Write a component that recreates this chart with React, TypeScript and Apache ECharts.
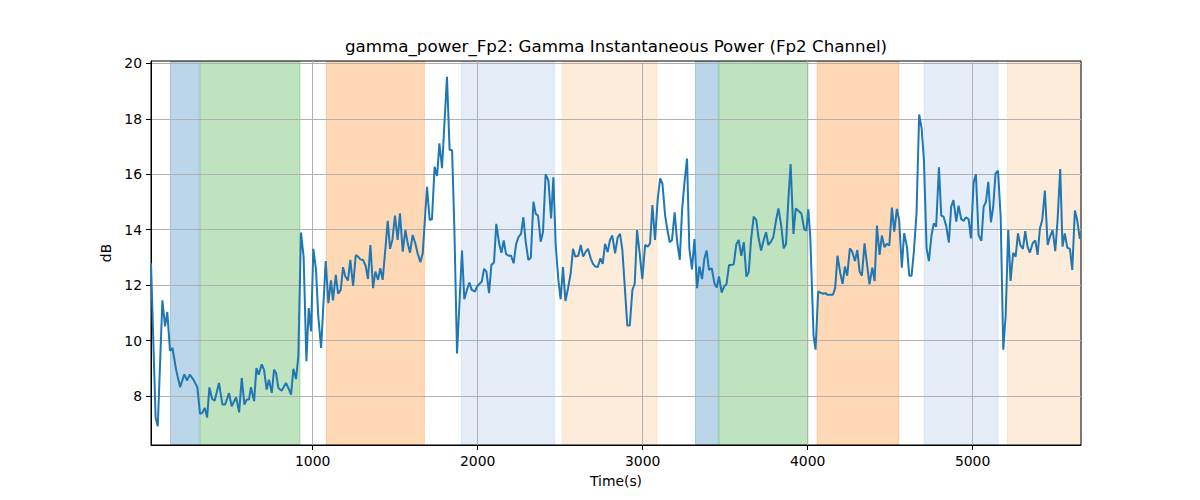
import React, { useEffect, useRef } from "react";
import * as echarts from "echarts";

const chartTitle = "gamma_power_Fp2: Gamma Instantaneous Power (Fp2 Channel)";
const xAxisName = "Time(s)";
const yAxisName = "dB";

const xTicks = [1000, 2000, 3000, 4000, 5000];
const yTicks = [8, 10, 12, 14, 16, 18, 20];
const xRange = [20, 5657];
const yRange = [6.23, 20.09];

// shaded epochs: start, end (s) and kind
const bandStart = [138, 319, 1083, 1901, 2513, 3320, 3463, 4058, 4707, 5210];
const bandEnd = [313, 923, 1677, 2465, 3087, 3459, 4002, 4553, 5154, 5657];
const bandKind = ["blue", "green", "orange", "lightblue", "lightorange", "blue", "green", "orange", "lightblue", "lightorange"];

// gamma power trace: [time (s), dB]
const gammaTrace: [number, number][] = [
  [20, 12.79], [48, 7.21], [61, 6.91], [89, 11.45], [105, 10.51], [119, 11.03], [135, 9.63], [150, 9.73], [172, 8.95], [196, 8.32],
  [222, 8.78], [238, 8.56], [255, 8.77], [275, 8.61], [301, 8.31], [317, 7.35], [331, 7.39], [346, 7.57], [360, 7.22], [374, 8.31],
  [390, 7.9], [406, 7.83], [432, 8.47], [453, 7.69], [469, 7.69], [493, 8.1], [509, 7.63], [536, 7.96], [554, 7.41], [570, 8.65],
  [586, 7.69], [600, 7.87], [614, 7.87], [626, 8.32], [645, 7.81], [659, 9.01], [673, 8.77], [691, 9.14], [705, 8.95], [721, 8.23],
  [735, 8.59], [752, 8.11], [766, 8.95], [778, 8.83], [792, 8.29], [812, 8.19], [838, 8.47], [857, 8.23], [869, 8.05], [883, 8.98],
  [899, 8.61], [913, 9.43], [929, 13.9], [945, 13.03], [962, 9.25], [976, 11.17], [990, 10.33],
  [1004, 13.31], [1020, 12.57], [1034, 10.87], [1051, 9.73], [1079, 12.87], [1095, 11.35], [1111, 12.17], [1123, 11.45], [1140, 12.37], [1154, 11.69],
  [1170, 11.83], [1184, 12.65], [1198, 12.31], [1214, 12.17], [1228, 12.91], [1245, 11.97], [1261, 13.08], [1275, 13.03], [1289, 12.93], [1305, 12.91],
  [1321, 12.7], [1335, 12.22], [1350, 13.45], [1366, 11.89], [1380, 12.49], [1396, 12.19], [1410, 12.61], [1424, 12.19], [1441, 13.33], [1455, 14.32],
  [1469, 13.31], [1483, 13.63], [1499, 14.51], [1515, 13.63], [1529, 14.59], [1546, 13.21], [1562, 13.99], [1576, 13.51], [1590, 13.17], [1606, 13.81],
  [1622, 13.51], [1636, 13.15], [1653, 12.83], [1667, 13.15], [1693, 15.55], [1709, 14.35], [1723, 14.38], [1739, 16.27], [1754, 15.94], [1768, 17.12],
  [1784, 16.22], [1814, 19.52], [1830, 16.88], [1845, 16.88], [1859, 13.99], [1875, 9.53], [1905, 13.25], [1919, 11.49], [1935, 11.83], [1950, 12.09],
  [1964, 11.83],
  [1984, 11.77], [1996, 11.95], [2012, 12.05], [2025, 12.13], [2039, 12.59], [2053, 12.49], [2069, 11.71], [2083, 12.73], [2099, 12.82], [2113, 14.21],
  [2130, 13.51], [2144, 13.17], [2158, 13.61], [2172, 13.12], [2188, 13.06], [2202, 13.07], [2218, 12.79], [2233, 13.48], [2247, 13.73], [2263, 13.85],
  [2277, 14.45], [2291, 13.57], [2307, 12.91], [2322, 12.99], [2338, 15.01], [2352, 14.57], [2366, 14.51], [2382, 13.57], [2396, 13.91], [2412, 16.0],
  [2429, 15.77], [2445, 14.41], [2459, 15.89], [2473, 13.45], [2489, 12.19], [2503, 11.49], [2517, 12.65], [2532, 11.43], [2548, 11.89], [2564, 12.43],
  [2578, 13.31], [2592, 13.03], [2610, 13.06], [2625, 13.45], [2639, 13.03], [2655, 13.21], [2669, 13.31], [2685, 12.97], [2699, 12.77], [2713, 12.67],
  [2728, 12.65], [2744, 12.97], [2758, 12.77], [2772, 13.49], [2788, 13.19], [2802, 13.63], [2816, 13.79], [2833, 13.15], [2849, 13.73], [2863, 13.85],
  [2877, 13.27], [2893, 11.83], [2907, 10.54], [2922, 10.54], [2938, 11.83], [2952, 12.05], [2966, 13.99],
  [2982, 13.15], [2998, 12.22], [3015, 13.45], [3031, 13.39], [3045, 13.51], [3059, 14.89], [3075, 13.63], [3091, 15.07], [3106, 15.85], [3120, 15.67],
  [3136, 14.53], [3150, 13.99], [3164, 13.55], [3178, 13.63], [3194, 14.63], [3209, 13.57], [3225, 12.91], [3239, 14.71], [3253, 15.67], [3269, 16.57],
  [3283, 13.33], [3299, 12.57], [3314, 13.66], [3330, 11.89], [3344, 12.67], [3360, 12.22], [3374, 12.95], [3388, 13.25], [3402, 12.55], [3419, 12.61],
  [3435, 12.07], [3449, 11.91], [3463, 12.31], [3479, 11.73], [3493, 11.95], [3508, 12.03], [3524, 12.73], [3538, 12.73], [3552, 12.75], [3568, 13.48],
  [3582, 13.63], [3598, 13.06], [3613, 13.55], [3629, 12.31], [3643, 12.47], [3657, 13.63], [3673, 14.47], [3689, 14.35], [3703, 13.69], [3718, 13.25],
  [3734, 13.63], [3748, 13.91], [3762, 13.45], [3778, 13.57], [3792, 13.73], [3809, 14.35], [3823, 14.77], [3839, 14.19], [3855, 13.33], [3869, 13.48],
  [3883, 15.07], [3897, 16.37], [3914, 13.85], [3928, 14.77],
  [3951, 14.65], [3963, 14.57], [3979, 14.02], [3992, 13.97], [4004, 14.74], [4016, 13.75], [4026, 11.95], [4036, 10.17], [4048, 9.67], [4064, 11.77],
  [4078, 11.73], [4093, 11.69], [4107, 11.71], [4121, 11.65], [4137, 11.65], [4153, 11.65], [4167, 11.89], [4181, 13.06], [4198, 12.43], [4212, 12.05],
  [4226, 12.67], [4240, 12.34], [4256, 13.33], [4270, 13.21], [4287, 12.87], [4301, 13.27], [4315, 12.49], [4329, 12.34], [4345, 13.51], [4361, 12.7],
  [4375, 12.03], [4392, 12.63], [4406, 12.15], [4420, 14.15], [4436, 13.09], [4450, 13.79], [4466, 13.37], [4480, 13.49], [4495, 13.43], [4511, 14.8],
  [4525, 13.93], [4541, 14.75], [4555, 14.33], [4571, 12.63], [4585, 13.87], [4602, 13.39], [4616, 12.34], [4630, 12.34], [4644, 13.21], [4660, 14.59],
  [4676, 18.16], [4691, 17.66], [4705, 16.51], [4721, 13.33], [4735, 12.87], [4751, 13.81], [4765, 14.23], [4779, 14.11], [4796, 16.25], [4810, 14.51],
  [4824, 14.47], [4840, 14.14], [4856, 13.54], [4870, 14.83], [4884, 15.07], [4901, 14.29], [4915, 14.87],
  [4931, 14.38], [4946, 14.32], [4960, 14.45], [4976, 14.38], [4990, 13.69], [5006, 15.7], [5020, 16.0], [5036, 13.81], [5053, 13.6], [5067, 14.83],
  [5081, 15.01], [5095, 15.73], [5111, 14.27], [5125, 14.83], [5139, 16.03], [5154, 16.13], [5170, 14.47], [5186, 9.67], [5200, 10.87], [5216, 13.99],
  [5230, 12.15], [5246, 13.17], [5261, 13.03], [5275, 13.87], [5289, 13.45], [5305, 13.31], [5319, 13.95], [5333, 13.39], [5347, 13.17], [5364, 13.51],
  [5380, 13.61], [5394, 13.09], [5408, 14.05], [5422, 14.35], [5438, 15.41], [5455, 13.45], [5469, 13.75], [5485, 13.99], [5501, 13.23], [5515, 14.35],
  [5531, 16.19], [5545, 13.39], [5559, 13.87], [5574, 13.35], [5590, 13.31], [5604, 12.55], [5620, 14.69], [5634, 14.35], [5650, 13.67],
];

const bandFill: Record<string, string> = {
  blue: "rgba(31,119,180,0.3)",
  green: "rgba(44,160,44,0.3)",
  orange: "rgba(255,127,14,0.3)",
  lightblue: "rgba(100,149,215,0.17)",
  lightorange: "rgba(250,160,70,0.2)",
};

const FONT = "DejaVu Sans";

export default function App() {
  const ref = useRef<HTMLDivElement>(null);
  useEffect(() => {
    if (!ref.current) return;
    const chart = echarts.init(ref.current, null, { renderer: "svg" });
    const bandData = bandStart.map((s, i) => [s, bandEnd[i], i]);
    const gridLeft = 151;
    const gridRight = 1081;
    chart.setOption({
      animation: false,
      backgroundColor: "#ffffff",
      grid: {
        left: gridLeft,
        right: 1200 - gridRight,
        top: 61,
        bottom: 55,
        show: true,
        borderColor: "#000000",
        borderWidth: 1,
        backgroundColor: "transparent",
        z: 0,
      },
      graphic: [
        {
          type: "text",
          x: (gridLeft + gridRight) / 2,
          y: 46,
          style: {
            text: chartTitle,
            textAlign: "center",
            textVerticalAlign: "middle",
            fontFamily: FONT,
            fontSize: 16.7,
            fill: "#000000",
          },
        },
      ],
      xAxis: {
        type: "value",
        min: xRange[0],
        max: xRange[1],
        name: xAxisName,
        nameLocation: "middle",
        nameGap: 29,
        nameTextStyle: { fontFamily: FONT, fontSize: 13.9, color: "#000000" },
        axisLine: { show: true, onZero: false, lineStyle: { color: "#000000", width: 1 } },
        axisTick: { show: true, length: 5, customValues: xTicks, lineStyle: { color: "#000000", width: 1 } },
        axisLabel: {
          customValues: xTicks,
          formatter: (v: number) => String(v),
          margin: 9,
          fontFamily: FONT,
          fontSize: 13.9,
          color: "#000000",
        },
        splitLine: { show: true, lineStyle: { color: "#b0b0b0", width: 1 } },
      },
      yAxis: {
        type: "value",
        min: yRange[0],
        max: yRange[1],
        name: yAxisName,
        nameLocation: "middle",
        nameGap: 34,
        nameTextStyle: { fontFamily: FONT, fontSize: 13.9, color: "#000000" },
        axisLine: { show: true, onZero: false, lineStyle: { color: "#000000", width: 1 } },
        axisTick: { show: true, length: 5, customValues: yTicks, lineStyle: { color: "#000000", width: 1 } },
        axisLabel: {
          customValues: yTicks,
          formatter: (v: number) => String(v),
          margin: 9,
          fontFamily: FONT,
          fontSize: 13.9,
          color: "#000000",
        },
        splitLine: { show: true, lineStyle: { color: "#b0b0b0", width: 1 } },
      },
      series: [
        {
          type: "custom",
          z: -1,
          silent: true,
          clip: true,
          encode: { x: [0, 1] },
          data: bandData,
          renderItem: (params: any, api: any) => {
            const idx = api.value(2);
            const color = bandFill[bandKind[idx]];
            const p0 = api.coord([api.value(0), yRange[1]]);
            const p1 = api.coord([api.value(1), yRange[0]]);
            return {
              type: "rect",
              shape: { x: p0[0], y: p0[1], width: p1[0] - p0[0], height: p1[1] - p0[1] },
              style: { fill: color, stroke: color, lineWidth: 1 },
            };
          },
        },
        {
          type: "line",
          z: 3,
          data: gammaTrace,
          showSymbol: false,
          symbol: "none",
          clip: true,
          lineStyle: { color: "#1f77b4", width: 2 },
          itemStyle: { color: "#1f77b4" },
        },
      ],
    });
    return () => chart.dispose();
  }, []);
  return (
    <div
      ref={ref}
      style={{ position: "fixed", left: 0, top: 0, width: 1200, height: 500, background: "#ffffff" }}
    />
  );
}
